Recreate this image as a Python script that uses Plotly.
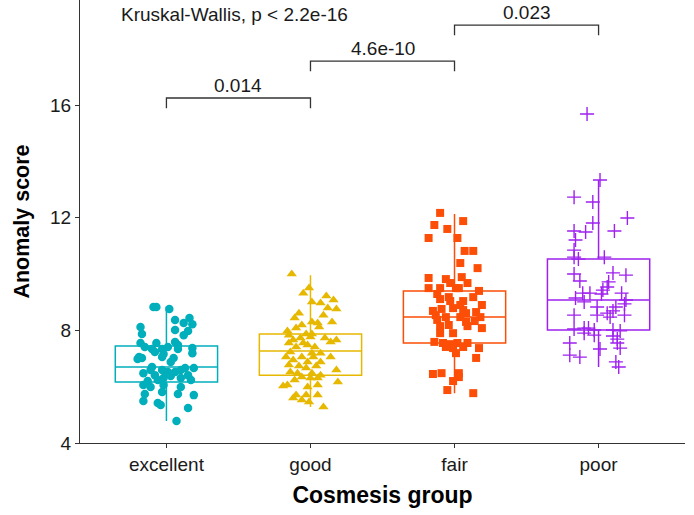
import plotly.graph_objects as go

# ---------------- data ----------------
categories = ["excellent", "good", "fair", "poor"]
colors = ["#00AFBB", "#E7B800", "#FC4E07", "#A020F0"]
symbols = ["circle", "triangle-up", "square", "cross-thin-open"]

excellent_y = [8.83, 8.83, 8.76, 8.37, 8.44, 8.26, 8.22, 8.12, 7.87, 8.01, 7.98, 7.83, 7.59, 7.55, 7.55,
               7.48, 7.41, 7.34, 7.34, 7.41, 7.37, 7.23, 7.16, 7.34, 7.19, 7.05, 7.02, 6.98, 7.05, 7.02,
               6.88, 6.70, 6.59, 6.59, 6.52, 6.52, 6.59, 6.66, 6.66, 6.48, 6.41, 6.38, 6.41, 6.31, 6.31,
               6.20, 6.24, 6.24, 6.06, 5.99, 6.06, 5.99, 5.81, 5.74, 5.74, 5.70, 5.49, 5.42, 5.35, 5.24, 4.78]
excellent_jit = [-0.09, -0.07, 0.02, 0.06, 0.16, 0.12, 0.18, -0.18, -0.17, 0.06, 0.15, 0.12, 0.06, -0.18, -0.07,
                 0.08, -0.15, -0.10, -0.03, 0.01, 0.18, -0.08, -0.02, 0.08, 0.18, -0.19, -0.17, -0.20, -0.03, 0.05,
                 0.03, -0.10, -0.11, -0.03, 0.01, 0.06, 0.10, 0.13, 0.19, -0.16, -0.08, 0.03, 0.15, -0.02, 0.10,
                 -0.13, -0.06, 0.17, -0.16, -0.11, -0.02, 0.10, -0.03, -0.15, 0.08, 0.19, -0.16, -0.06, -0.04, 0.15, 0.07]

good_y = [10.0, 9.50, 9.32, 9.22, 9.08, 9.01, 8.97, 8.76, 8.79, 8.61, 8.44, 8.54, 8.30, 8.30, 8.26,
          8.19, 8.12, 8.08, 7.98, 7.87, 7.87, 7.83, 7.66, 7.73, 7.76, 7.73, 7.66, 7.59, 7.55, 7.55,
          7.48, 7.41, 7.41, 7.23, 7.19, 7.19, 7.05, 7.05, 7.05, 7.05, 6.95, 6.88, 6.88, 6.77, 6.73,
          6.73, 6.66, 6.59, 6.52, 6.48, 6.48, 6.41, 6.34, 6.31, 6.31, 6.24, 6.02, 6.06, 6.17, 5.99,
          6.06, 5.70, 5.70, 5.70, 5.60, 5.46, 5.28, 5.53]
good_jit = [-0.13, -0.01, -0.05, 0.11, 0.16, 0.01, 0.07, 0.18, 0.12, -0.08, -0.11, 0.09, 0.15, 0.01, 0.05,
            -0.06, 0.06, -0.10, -0.16, -0.03, 0.01, -0.15, -0.12, -0.07, 0.00, 0.10, 0.18, 0.14, -0.15, -0.05,
            -0.02, 0.03, -0.10, -0.14, 0.07, 0.01, -0.17, -0.06, 0.14, 0.02, -0.12, -0.02, 0.07, -0.15, -0.08,
            0.04, -0.03, 0.18, -0.14, -0.09, 0.01, 0.07, -0.06, 0.00, 0.05, -0.11, -0.19, -0.16, 0.19, -0.02,
            0.05, -0.10, -0.03, 0.05, -0.12, -0.01, 0.09, -0.06]

fair_y = [12.17, 11.74, 11.88, 11.60, 11.28, 11.28, 10.82, 10.82, 10.39, 10.21, 9.86, 9.89, 9.82, 9.68, 9.68,
          9.50, 9.50, 9.50, 9.50, 9.40, 9.29, 9.18, 9.11, 9.18, 9.04, 9.04, 8.90, 8.90, 8.76, 8.79,
          8.69, 8.72, 8.65, 8.61, 8.54, 8.47, 8.47, 8.47, 8.37, 8.33, 8.30, 8.19, 8.15, 8.15, 8.08,
          7.90, 7.90, 7.59, 7.55, 7.51, 7.55, 7.55, 7.41, 7.37, 7.41, 7.37, 7.19, 7.02, 6.45, 6.48,
          6.48, 6.34, 6.20, 5.88, 5.77]
fair_jit = [-0.10, -0.14, 0.06, -0.05, -0.18, 0.02, 0.07, 0.13, 0.04, 0.16, -0.18, 0.05, -0.06, 0.09, -0.03,
            -0.18, -0.10, 0.01, 0.03, 0.17, -0.12, 0.13, -0.10, -0.04, -0.03, 0.06, 0.04, 0.19, -0.09, -0.01,
            -0.15, 0.06, 0.15, 0.08, -0.13, -0.06, 0.04, 0.18, -0.12, 0.14, 0.08, -0.04, -0.10, 0.09, 0.19,
            -0.10, -0.01, -0.14, -0.08, -0.03, 0.02, 0.09, -0.06, -0.01, 0.06, 0.17, 0.01, 0.15, -0.15, -0.09,
            0.03, 0.03, -0.01, -0.05, 0.13]

poor_y = [15.68, 13.34, 12.73, 12.56, 11.99, 11.81, 11.53, 11.49, 11.53, 11.21, 10.85, 10.60, 10.53, 10.60, 10.00,
          10.04, 9.96, 9.75, 9.72, 9.54, 9.32, 9.32, 9.43, 9.29, 9.32, 9.15, 9.01, 9.08, 8.94, 8.83,
          8.83, 8.69, 8.61, 8.54, 8.54, 8.47, 8.54, 8.05, 8.08, 8.08, 8.01, 7.90, 7.83, 8.01, 7.98,
          7.80, 7.69, 7.55, 7.55, 7.34, 7.37, 7.12, 7.05, 6.88, 6.70]
poor_jit = [-0.08, 0.01, -0.17, -0.04, 0.20, -0.04, -0.17, -0.09, 0.11, -0.16, -0.17, -0.17, -0.14, 0.04, -0.17,
            0.10, 0.19, -0.13, 0.07, 0.06, -0.11, -0.06, 0.03, 0.02, 0.16, -0.16, -0.10, 0.19, 0.18, 0.12,
            -0.01, 0.10, 0.06, -0.17, -0.01, 0.08, 0.18, -0.17, -0.10, -0.07, -0.03, -0.10, -0.03, 0.10, 0.15,
            0.10, 0.13, 0.13, -0.20, 0.01, 0.15, -0.20, -0.13, 0.12, 0.14]

# box statistics
box_q1 = [6.17, 6.41, 7.55, 8.01]
box_median = [6.70, 7.27, 8.47, 9.08]
box_q3 = [7.44, 7.87, 9.40, 10.53]
box_lower = [4.78, 5.28, 5.77, 6.70]
box_upper = [8.86, 9.96, 12.13, 13.34]

# pairwise comparisons: (group a, group b), bracket level, label
comp_pairs = [(1, 2), (2, 3), (3, 4)]
comp_levels = [16.25, 17.56, 18.84]
comp_labels = ["0.014", "4.6e-10", "0.023"]
global_label = "Kruskal-Wallis, p < 2.2e-16"

group_y = [excellent_y, good_y, fair_y, poor_y]
group_jit = [excellent_jit, good_jit, fair_jit, poor_jit]

# ---------------- figure ----------------
fig = go.Figure()
FONT = "Liberation Sans, Arial, sans-serif"
TXT = "#1a1a1a"

for i, cat in enumerate(categories):
    pos = i + 1
    fig.add_trace(go.Box(
        x=[pos], q1=[box_q1[i]], median=[box_median[i]], q3=[box_q3[i]],
        lowerfence=[box_lower[i]], upperfence=[box_upper[i]],
        width=0.71, whiskerwidth=0,
        line=dict(color=colors[i], width=1.5),
        fillcolor="rgba(255,255,255,0)",
        boxpoints=False, showlegend=False, hoverinfo="skip",
    ))

for i, cat in enumerate(categories):
    pos = i + 1
    xs = [pos + j for j in group_jit[i]]
    if symbols[i] == "cross-thin-open":
        marker = dict(symbol=symbols[i], size=10, color=colors[i],
                      line=dict(color=colors[i], width=1.4))
    elif symbols[i] == "triangle-up":
        marker = dict(symbol=symbols[i], size=9, color=colors[i], line=dict(width=0))
    elif symbols[i] == "square":
        marker = dict(symbol=symbols[i], size=8, color=colors[i], line=dict(width=0))
    else:
        marker = dict(symbol=symbols[i], size=8.5, color=colors[i], line=dict(width=0))
    fig.add_trace(go.Scatter(x=xs, y=group_y[i], mode="markers", marker=marker,
                             name=cat, showlegend=False))

tick_drop = 0.36
for (a, b), lvl, lab in zip(comp_pairs, comp_levels, comp_labels):
    fig.add_shape(type="path",
                  path=f"M {a},{lvl - tick_drop} L {a},{lvl} L {b},{lvl} L {b},{lvl - tick_drop}",
                  xref="x", yref="y", line=dict(color="#333333", width=1.3))
    fig.add_annotation(x=(a + b) / 2, y=lvl, text=lab, showarrow=False,
                       xref="x", yref="y", yanchor="bottom", yshift=0,
                       font=dict(family=FONT, size=19, color=TXT))

fig.add_annotation(x=0.67, y=19.2, text=global_label, showarrow=False,
                   xref="x", yref="y", xanchor="left", yanchor="middle",
                   font=dict(family=FONT, size=19, color=TXT))

fig.update_layout(
    width=694, height=515,
    margin=dict(l=80, r=9, t=0, b=72),
    plot_bgcolor="white", paper_bgcolor="white",
    font=dict(family=FONT, color=TXT),
    xaxis=dict(
        range=[0.4, 4.6], tickmode="array", tickvals=[1, 2, 3, 4], ticktext=categories,
        showgrid=False, zeroline=False, showline=True, linecolor="#333333", linewidth=1.2,
        ticks="outside", ticklen=4, tickcolor="#333333", automargin=False,
        tickfont=dict(family=FONT, size=19, color=TXT),
        title=dict(text="<b>Cosmesis group</b>", font=dict(family=FONT, size=23, color="black"),
                   standoff=12),
    ),
    yaxis=dict(
        range=[4, 19.73], tickmode="array", tickvals=[4, 8, 12, 16],
        showgrid=False, zeroline=False, showline=True, linecolor="#333333", linewidth=1.2,
        ticks="outside", ticklen=4, tickcolor="#333333", automargin=False,
        tickfont=dict(family=FONT, size=19, color=TXT),
        title=dict(text="<b>Anomaly score</b>", font=dict(family=FONT, size=21.5, color="black"),
                   standoff=14),
    ),
)

fig.write_html("out.html",
               config={"displayModeBar": False},
               post_script="document.body.style.margin='0';document.body.style.overflow='hidden';")
